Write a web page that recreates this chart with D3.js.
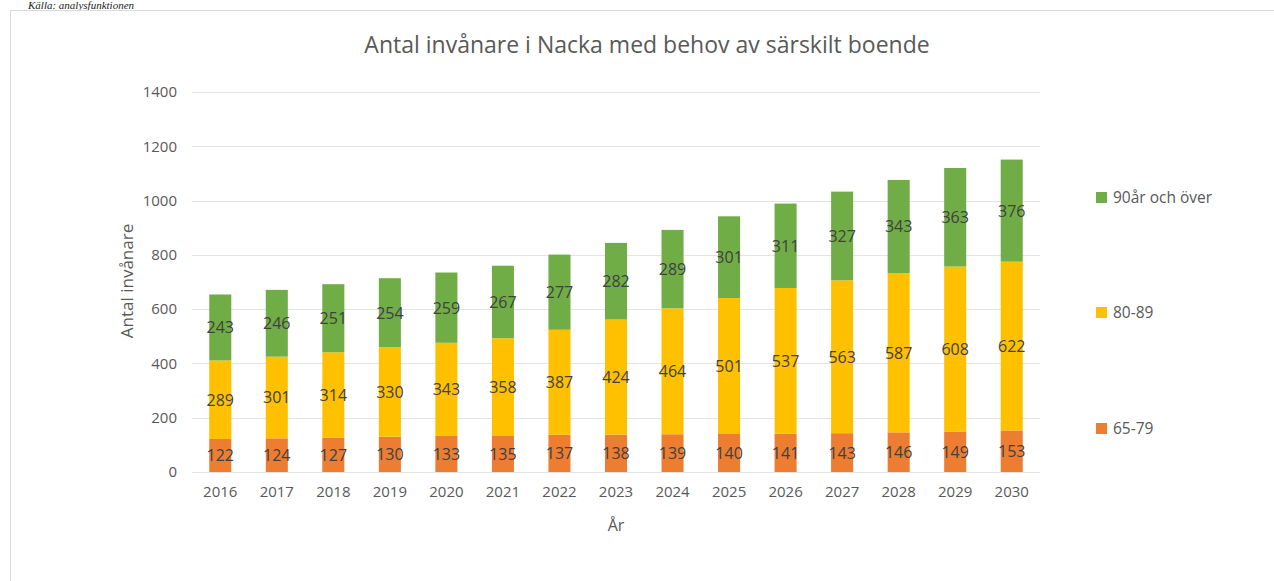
<!DOCTYPE html>
<html>
<head>
<meta charset="utf-8">
<script src="https://cdn.jsdelivr.net/npm/d3@7"></script>
<style>
  body { margin: 0; background: #fff; }
  text { font-family: "Open Sans", sans-serif; }
</style>
</head>
<body>
<div id="chart"></div>
<script>
// Data
var years = ["2016","2017","2018","2019","2020","2021","2022","2023","2024","2025","2026","2027","2028","2029","2030"];
var age65_79 = [122,124,127,130,133,135,137,138,139,140,141,143,146,149,153];
var age80_89 = [289,301,314,330,343,358,387,424,464,501,537,563,587,608,622];
var age90plus = [243,246,251,254,259,267,277,282,289,301,311,327,343,363,376];
var seriesNames = ["65-79","80-89","90år och över"];
var yTicks = [0,200,400,600,800,1000,1200,1400];

var colors = ["#ED7D31","#FFC000","#70AD47"];

var svgWidth = 1274;
var svgHeight = 581;

var margin = { top: 92, right: 234, bottom: 109, left: 192 };
var width = svgWidth - margin.left - margin.right;
var height = svgHeight - margin.top - margin.bottom;

var svg = d3.select("#chart")
    .append("svg")
    .attr("width", svgWidth)
    .attr("height", svgHeight);

// caption above the chart frame (cut off in the source page)
svg.append("text")
    .attr("x", 28)
    .attr("y", 9)
    .style("font-family", "'Liberation Serif', serif")
    .style("font-style", "italic")
    .attr("font-size", 11)
    .attr("fill", "#222")
    .text("Källa: analysfunktionen");

// chart frame
svg.append("rect")
    .attr("x", 10.5)
    .attr("y", 10.5)
    .attr("width", 1300)
    .attr("height", 600)
    .attr("fill", "none")
    .attr("stroke", "#d9d9d9");

var chartGroup = svg.append("g")
    .attr("transform", `translate(${margin.left}, ${margin.top})`);

// build stacked table
var table = years.map(function(y, i) {
    return { year: y, "65-79": age65_79[i], "80-89": age80_89[i], "90år och över": age90plus[i] };
});
var stacked = d3.stack().keys(seriesNames)(table);

var xScale = d3.scaleBand()
    .domain(years)
    .range([0, width])
    .paddingInner(0.61)
    .paddingOuter(0.305);

var yScale = d3.scaleLinear()
    .domain([0, 1400])
    .range([height, 0]);

// gridlines
chartGroup.append("g")
    .selectAll("line")
    .data(yTicks).enter()
    .append("line")
    .attr("x1", 0)
    .attr("x2", width)
    .attr("y1", d => Math.round(yScale(d)) + 0.5)
    .attr("y2", d => Math.round(yScale(d)) + 0.5)
    .attr("stroke", "#e3e3e3")
    .attr("stroke-width", 1.2);

// y axis
var leftAxis = d3.axisLeft(yScale).tickValues(yTicks).tickFormat(d3.format("d")).tickSize(0).tickPadding(15);
var yAxisG = chartGroup.append("g").call(leftAxis);
yAxisG.select(".domain").remove();
yAxisG.selectAll("text")
    .attr("font-size", 15)
    .attr("fill", "#595959")
    .style("font-family", "'Open Sans', sans-serif");

// x axis
var bottomAxis = d3.axisBottom(xScale).tickSize(0).tickPadding(14);
var xAxisG = chartGroup.append("g")
    .attr("transform", `translate(0, ${height})`)
    .call(bottomAxis);
xAxisG.select(".domain").remove();
xAxisG.selectAll("text")
    .attr("font-size", 15)
    .attr("fill", "#595959")
    .style("font-family", "'Open Sans', sans-serif");

// bars
var layers = chartGroup.selectAll(".layer")
    .data(stacked).enter()
    .append("g")
    .attr("class", "layer")
    .attr("fill", (d, i) => colors[i]);

layers.selectAll("rect")
    .data(d => d).enter()
    .append("rect")
    .attr("x", d => xScale(d.data.year))
    .attr("width", xScale.bandwidth())
    .attr("y", d => yScale(d[1]))
    .attr("height", d => yScale(d[0]) - yScale(d[1]));

// value labels
layers.selectAll("text")
    .data(d => d).enter()
    .append("text")
    .attr("x", d => xScale(d.data.year) + xScale.bandwidth() / 2)
    .attr("y", d => (yScale(d[0]) + yScale(d[1])) / 2 + 6)
    .attr("text-anchor", "middle")
    .attr("font-size", 16)
    .attr("fill", "#404040")
    .text(d => d[1] - d[0]);

// title
svg.append("text")
    .attr("x", 647)
    .attr("y", 53)
    .attr("text-anchor", "middle")
    .attr("font-size", 23)
    .attr("fill", "#595959")
    .text("Antal invånare i Nacka med behov av särskilt boende");

// axis titles
svg.append("text")
    .attr("transform", "rotate(-90)")
    .attr("x", -281)
    .attr("y", 133)
    .attr("text-anchor", "middle")
    .attr("font-size", 17)
    .attr("fill", "#595959")
    .text("Antal invånare");

svg.append("text")
    .attr("x", 616)
    .attr("y", 531)
    .attr("text-anchor", "middle")
    .attr("font-size", 16)
    .attr("fill", "#595959")
    .text("År");

// legend
var legendY = [428, 312, 197];
var legend = svg.append("g");
seriesNames.forEach(function(name, i) {
    legend.append("rect")
        .attr("x", 1096)
        .attr("y", legendY[i] - 5)
        .attr("width", 11)
        .attr("height", 11)
        .attr("fill", colors[i]);
    legend.append("text")
        .attr("x", 1113)
        .attr("y", legendY[i] + 6)
        .attr("font-size", 15.5)
        .attr("fill", "#595959")
        .text(name);
});
</script>
</body>
</html>
